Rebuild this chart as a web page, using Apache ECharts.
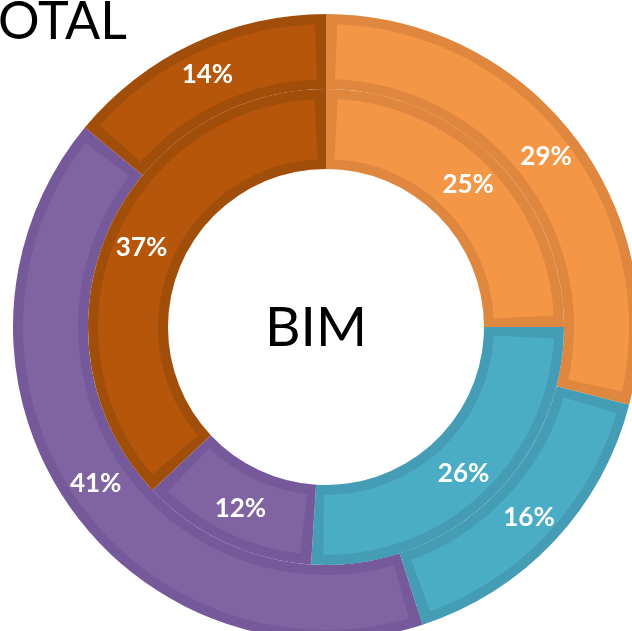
<!DOCTYPE html>
<html>
<head>
<meta charset="utf-8">
<script src="https://cdn.jsdelivr.net/npm/echarts@6/dist/echarts.min.js"></script>
<style>
  html, body { margin: 0; padding: 0; background: #fff; }
  #chart { width: 632px; height: 631px; }
</style>
</head>
<body>
<div id="chart"></div>
<script>
// data
const categories = ['A', 'B', 'C', 'D'];
const outerValues = [29, 16, 41, 14];   // TOTAL ring
const innerValues = [25, 26, 12, 37];   // BIM ring
const fillColors = ['#F39646', '#4AACC5', '#8064A2', '#B5560B'];
const edgeColors = ['#E0873F', '#459CB5', '#75599A', '#A24E0B'];

const center = [326, 327];
const font = 'Lato, "Open Sans", sans-serif';

const toData = (values, colors) => values.map((v, i) => ({
    name: categories[i],
    value: v,
    itemStyle: { color: colors[i] }
}));

// one ring = dark base + lighter fill inset by ~10px
const ring = (values, r0, r1, pad) => [
    {
        type: 'pie',
        center: center,
        radius: [r0, r1],
        startAngle: 90,
        clockwise: true,
        silent: true,
        label: { show: false },
        labelLine: { show: false },
        itemStyle: { borderWidth: 0 },
        data: toData(values, edgeColors)
    },
    {
        type: 'pie',
        center: center,
        radius: [r0 + 10, r1 - 10],
        startAngle: 90,
        clockwise: true,
        padAngle: pad,
        silent: true,
        itemStyle: { borderWidth: 0 },
        label: {
            show: true,
            position: 'inside',
            formatter: '{c}%',
            color: '#fff',
            fontFamily: font,
            fontWeight: 'bold',
            fontSize: 26
        },
        labelLine: { show: false },
        data: toData(values, fillColors)
    }
];

const chart = echarts.init(document.getElementById('chart'));
chart.setOption({
    animation: false,
    title: {
        text: 'TOTAL',
        left: -36,
        top: -9,
        textStyle: { fontFamily: font, fontWeight: 'normal', fontSize: 52, color: '#000' }
    },
    graphic: [{
        type: 'text',
        left: 'center',
        style: {
            text: 'BIM',
            x: center[0],
            y: center[1] + 1,
            align: 'center',
            verticalAlign: 'middle',
            fontFamily: font,
            fontSize: 55,
            fill: '#000'
        }
    }],
    series: [
        ...ring(outerValues, 238, 313, 4.2),
        ...ring(innerValues, 158, 238, 5.8)
    ]
});
</script>
</body>
</html>
